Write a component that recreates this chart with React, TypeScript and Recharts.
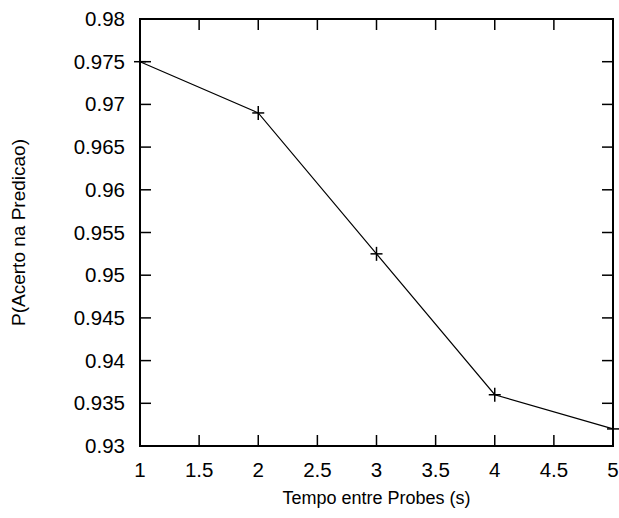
import { LineChart, Line, XAxis, YAxis, ReferenceArea } from 'recharts';

// values
const probeTimes = [1, 2, 3, 4, 5];
const hitProbability = [0.975, 0.969, 0.9525, 0.936, 0.932];

const xTicks = [1, 1.5, 2, 2.5, 3, 3.5, 4, 4.5, 5];
const yTicks = [0.93, 0.935, 0.94, 0.945, 0.95, 0.955, 0.96, 0.965, 0.97, 0.975, 0.98];

const data = probeTimes.map((t, i) => ({ t, p: hitProbability[i] }));

const W = 619;
const H = 518;
const M = { top: 19, right: 6, left: 0, bottom: 0 };
const Y_AXIS_W = 140;
const X_AXIS_H = 72;
const PLOT_TOP = M.top;
const PLOT_RIGHT = W - M.right;
const TICK = 11;
const FONT = '"Liberation Sans", Arial, Helvetica, sans-serif';

const XTick = ({ x, y, payload }: any) => (
  <g>
    <line x1={x} y1={y} x2={x} y2={y - TICK} stroke="#000" strokeWidth={1.5} />
    <line x1={x} y1={PLOT_TOP} x2={x} y2={PLOT_TOP + TICK} stroke="#000" strokeWidth={1.5} />
    <text x={x} y={y + 31} textAnchor="middle" fontSize={20.5} fill="#000" fontFamily={FONT}>
      {payload.value}
    </text>
  </g>
);

const YTick = ({ x, y, payload }: any) => (
  <g>
    <line x1={x} y1={y} x2={x + TICK} y2={y} stroke="#000" strokeWidth={1.5} />
    <line x1={PLOT_RIGHT} y1={y} x2={PLOT_RIGHT - TICK} y2={y} stroke="#000" strokeWidth={1.5} />
    <text x={x - 15} y={y + 7} textAnchor="end" fontSize={20.5} fill="#000" fontFamily={FONT}>
      {payload.value}
    </text>
  </g>
);

const PlusDot = ({ cx, cy }: any) => (
  <g>
    <line x1={cx - 6} y1={cy} x2={cx + 6} y2={cy} stroke="#000" strokeWidth={1.5} />
    <line x1={cx} y1={cy - 7} x2={cx} y2={cy + 7} stroke="#000" strokeWidth={1.5} />
  </g>
);

export default function App() {
  return (
    <div style={{ position: 'absolute', left: 0, top: 0, background: '#fff' }}>
      <LineChart width={W} height={H} data={data} margin={M}>
        <XAxis
          dataKey="t"
          type="number"
          domain={[1, 5]}
          ticks={xTicks}
          height={X_AXIS_H}
          axisLine={false}
          tickLine={false}
          tickSize={0}
          tickMargin={0}
          tick={<XTick />}
          interval={0}
          label={{
            value: 'Tempo entre Probes (s)',
            position: 'center',
            dy: 16,
            fontSize: 18,
            fill: '#000',
            fontFamily: FONT,
          }}
        />
        <YAxis
          type="number"
          domain={[0.93, 0.98]}
          ticks={yTicks}
          width={Y_AXIS_W}
          axisLine={false}
          tickLine={false}
          tickSize={0}
          tickMargin={0}
          tick={<YTick />}
          interval={0}
          label={{
            value: 'P(Acerto na Predicao)',
            angle: -90,
            position: 'center',
            dx: -52,
            fontSize: 19,
            fill: '#000',
            fontFamily: FONT,
          }}
        />
        <ReferenceArea
          x1={1}
          x2={5}
          y1={0.93}
          y2={0.98}
          fill="none"
          stroke="#000"
          strokeWidth={2}
        />
        <Line
          dataKey="p"
          type="linear"
          stroke="#000"
          strokeWidth={1.2}
          dot={<PlusDot />}
          activeDot={false}
          isAnimationActive={false}
        />
      </LineChart>
    </div>
  );
}
